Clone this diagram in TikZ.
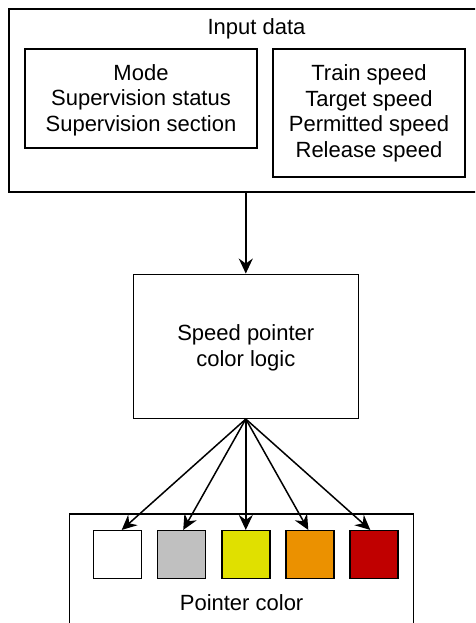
\documentclass[tikz,border=0pt]{standalone}
\usepackage{fontspec}
\setmainfont{Liberation Sans}
\usetikzlibrary{arrows.meta}
\definecolor{swgray}{RGB}{192,192,192}
\definecolor{swyellow}{RGB}{224,224,0}
\definecolor{sworange}{RGB}{235,145,0}
\definecolor{swred}{RGB}{192,0,0}
\begin{document}
\begin{tikzpicture}[x=1pt,y=-1pt,
  txt/.style={inner sep=0pt, align=center, font=\fontsize{22}{25.5}\selectfont},
  box/.style={draw, line width=1.5pt, inner sep=0pt},
  swatch/.style={draw, line width=1.5pt, minimum width=48pt, minimum height=48pt, inner sep=0pt},
  link/.style={line width=1.5pt, -{Stealth[length=15pt,width=14pt,inset=5pt]}}]
\useasboundingbox (0,0) rectangle (475,623);
\clip (0,0) rectangle (475,623);

% input data group
\node[box, minimum width=495pt, minimum height=183pt] (input) at (256.5,100.5) {};
\node[txt] (inputlabel) at (256.5,29) {Input data};
\node[box, minimum width=232pt, minimum height=99pt] (status) at (141,98.5) {};
\node[txt] (statustext) at ([yshift=-1.5pt]status.center)
  {Mode\\Supervision status\\Supervision section};
\node[box, minimum width=192pt, minimum height=128pt] (speeds) at (369,113) {};
\node[txt] (speedstext) at ([yshift=-0.5pt]speeds.center)
  {Train speed\\Target speed\\Permitted speed\\Release speed};

% logic block
\node[box, minimum width=225pt, minimum height=144pt] (logic) at (245.8,346.3) {};
\node[txt] (logictext) at ([yshift=-1.5pt]logic.center) {Speed pointer\\color logic};

% pointer colour group
\node[box, minimum width=344pt, minimum height=126pt] (pointer) at (241.6,577) {};
\node[txt] (pointerlabel) at (241.6,602.5) {Pointer color};
\node[swatch, fill=white]    (sq1) at (117.7,554.7) {};
\node[swatch, fill=swgray]   (sq2) at (181.7,554.7) {};
\node[swatch, fill=swyellow] (sq3) at (245.8,554.7) {};
\node[swatch, fill=sworange] (sq4) at (309.8,554.7) {};
\node[swatch, fill=swred]    (sq5) at (373.8,554.7) {};

% connectors
\draw[link] (logic.north |- input.south) -- (logic.north);
\draw[link] (logic.south) -- ([xshift=4pt]sq1.north);
\draw[link] (logic.south) -- ([xshift=1.5pt]sq2.north);
\draw[link] (logic.south) -- (sq3.north);
\draw[link] (logic.south) -- ([xshift=-1.5pt]sq4.north);
\draw[link] (logic.south) -- ([xshift=-3.5pt]sq5.north);
\end{tikzpicture}
\end{document}
